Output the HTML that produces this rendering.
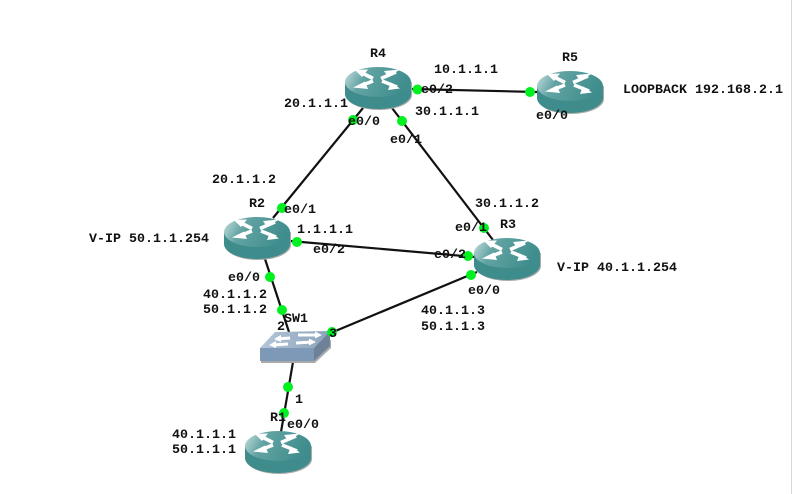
<!DOCTYPE html>
<html>
<head>
<meta charset="utf-8">
<style>
html,body{margin:0;padding:0;background:#fff;width:793px;height:494px;overflow:hidden}
svg{display:block}
text{font-family:"Liberation Mono",monospace;font-weight:bold;font-size:13.33px;fill:#111}
</style>
</head>
<body>
<svg width="793" height="494" viewBox="0 0 793 494" xmlns="http://www.w3.org/2000/svg">
<defs>
<linearGradient id="top" x1="0" y1="0" x2="1" y2="0.25">
<stop offset="0" stop-color="#c8e0e0"/><stop offset="0.35" stop-color="#62a3a3"/><stop offset="1" stop-color="#3f8d8d"/>
</linearGradient>
<linearGradient id="swtop" x1="0" y1="0" x2="1" y2="0">
<stop offset="0" stop-color="#b4c6d8"/><stop offset="1" stop-color="#8aa2ba"/>
</linearGradient>
<g id="router">
<ellipse cx="34" cy="28" rx="33" ry="15" fill="#aaa"/>
<rect x="1" y="15" width="66" height="13" fill="#aaa"/>
<path d="M0 15 V27 A33 15 0 0 0 66 27 V15 Z" fill="#3f8c8c"/>
<ellipse cx="33" cy="15" rx="33" ry="15" fill="url(#top)"/>
<path d="M15 5 L28 11.500 M51 5 L36 11.500 M14 19.500 L28 14 M52 20 L37 14" stroke="#fff" stroke-width="3.600" fill="none"/>
<path d="M10 3 L23 2.500 L17 10 Z M43 10 L39 4 L55 2.500 Z M8 20.500 L20 14.500 L23 22 Z M55 21.500 L43 23 L46 15.500 Z" fill="#fff"/>
</g>
</defs>

<rect x="791" y="0" width="1" height="494" fill="#d8d8d8"/>

<g stroke="#111" stroke-width="2.200" fill="none">
<line x1="411" y1="89" x2="537" y2="92"/>
<line x1="363" y1="108" x2="273" y2="218"/>
<line x1="392" y1="108" x2="493" y2="240"/>
<line x1="290" y1="241" x2="475" y2="257"/>
<line x1="265" y1="259" x2="289" y2="332"/>
<line x1="333" y1="332" x2="477" y2="272"/>
<line x1="293" y1="362" x2="281" y2="432"/>
</g>

<use href="#router" x="345" y="67"/>
<use href="#router" x="537" y="71"/>
<use href="#router" x="474" y="238"/>
<use href="#router" x="224" y="217"/>
<use href="#router" x="245" y="431"/>

<polygon points="261,350 261,363 315,363 331,348 331,340" fill="#aaa"/>
<polygon points="260,348 314,348 314,361 260,361" fill="#7d99b7"/>
<polygon points="314,348 330,331 330,346 314,361" fill="#6d8299"/>
<polygon points="260,348 275,332 330,331 314,348" fill="url(#swtop)"/>
<path d="M276 339 L290 338 M298 335 L318 335 M272 345 L288 344 M296 343 L312 342" stroke="#fff" stroke-width="3" fill="none"/>
<path d="M274 339 L281 335 L281 342 Z M322 335 L315 331.500 L315 338.500 Z M269 345 L276 341 L276 348 Z M316 342 L309 338.500 L309 345.500 Z" fill="#fff"/>

<g fill="#00f020">
<circle cx="417.500" cy="89.500" r="5"/>
<circle cx="353" cy="120" r="5"/>
<circle cx="402" cy="121" r="5"/>
<circle cx="282" cy="208" r="5"/>
<circle cx="297" cy="242" r="5"/>
<circle cx="468" cy="256" r="5"/>
<circle cx="484" cy="228" r="5"/>
<circle cx="471" cy="275" r="5"/>
<circle cx="530" cy="92" r="5"/>
<circle cx="270" cy="277" r="5"/>
<circle cx="282" cy="310" r="5"/>
<circle cx="332" cy="332" r="5"/>
<circle cx="288" cy="387" r="5"/>
<circle cx="284" cy="413" r="5"/>
</g>

<text x="370" y="57">R4</text>
<text x="434" y="73">10.1.1.1</text>
<text x="421" y="93">e0/2</text>
<text x="284" y="107">20.1.1.1</text>
<text x="415" y="115">30.1.1.1</text>
<text x="348" y="125">e0/0</text>
<text x="390" y="143">e0/1</text>
<text x="212" y="183">20.1.1.2</text>
<text x="249" y="207">R2</text>
<text x="284" y="213">e0/1</text>
<text x="297" y="233">1.1.1.1</text>
<text x="313" y="253">e0/2</text>
<text x="455" y="231">e0/1</text>
<text x="475" y="207">30.1.1.2</text>
<text x="500" y="228">R3</text>
<text x="434" y="258">e0/2</text>
<text x="557" y="271">V-IP 40.1.1.254</text>
<text x="468" y="294">e0/0</text>
<text x="421" y="314">40.1.1.3</text>
<text x="421" y="330">50.1.1.3</text>
<text x="562" y="61">R5</text>
<text x="623" y="93">LOOPBACK 192.168.2.1</text>
<text x="536" y="119">e0/0</text>
<text x="89" y="242">V-IP 50.1.1.254</text>
<text x="228" y="281">e0/0</text>
<text x="203" y="298">40.1.1.2</text>
<text x="203" y="313">50.1.1.2</text>
<text x="284" y="322">SW1</text>
<text x="277" y="330">2</text>
<text x="329" y="337">3</text>
<text x="295" y="403">1</text>
<text x="270" y="421">R1</text>
<text x="287" y="428">e0/0</text>
<text x="172" y="438">40.1.1.1</text>
<text x="172" y="453">50.1.1.1</text>
</svg>
</body>
</html>
